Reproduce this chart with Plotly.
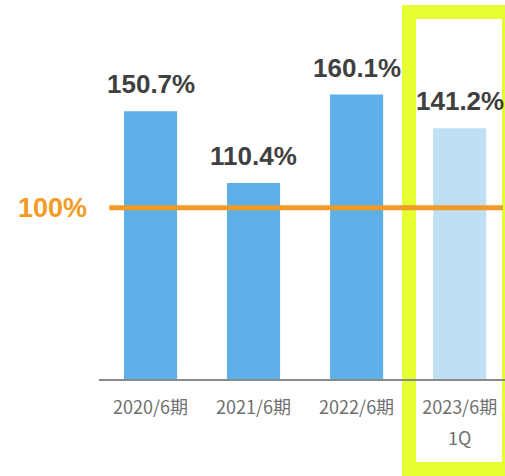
import plotly.graph_objects as go

categories = ["2020/6期", "2021/6期", "2022/6期", "2023/6期"]
sub_labels = ["", "", "", "1Q"]
values = [150.7, 110.4, 160.1, 141.2]
bar_colors = ["#5DAFE8", "#5DAFE8", "#5DAFE8", "#BFDFF5"]
value_labels = ["150.7%", "110.4%", "160.1%", "141.2%"]
ref_value = 100
ref_label = "100%"

W, H = 505, 476
L, R, T, B = 99, 0, 77, 97

fig = go.Figure()
fig.add_trace(go.Bar(
    x=list(range(len(categories))), y=values,
    marker=dict(color=bar_colors, line=dict(width=0)),
    width=0.515, hoverinfo="skip", cliponaxis=False,
))
fig.add_trace(go.Scatter(
    x=[-0.4, 3.42], y=[ref_value, ref_value], yaxis="y2",
    mode="lines", line=dict(color="#F09A28", width=5),
    hoverinfo="skip", cliponaxis=False,
))

for i, (v, t) in enumerate(zip(values, value_labels)):
    fig.add_annotation(x=i, y=v, text=t, showarrow=False, yanchor="bottom",
                       yshift=10, font=dict(family="Liberation Sans, Arial", size=26,
                                            color="#404040", weight="bold"))
for i, s in enumerate(sub_labels):
    if s:
        fig.add_annotation(x=i, y=0, text=s, showarrow=False, yanchor="middle",
                           yshift=-58, font=dict(family="Noto Sans CJK JP", size=18,
                                                 color="#707070"))

fig.add_annotation(xref="paper", yref="y2", x=(89 - L) / (W - L - R), y=ref_value,
                   text=ref_label, showarrow=False, xanchor="right", yanchor="middle",
                   font=dict(family="Liberation Sans, Arial", size=27,
                             color="#F29B26", weight="bold"))

# highlight frame around the last category
fig.add_shape(type="rect", xref="paper", yref="paper",
              x0=(409 - L) / (W - L - R), x1=(509 - L) / (W - L - R),
              y0=(H - B - 469) / (H - T - B), y1=(H - B - 12) / (H - T - B),
              line=dict(color="#E6FF33", width=14), fillcolor="rgba(0,0,0,0)",
              layer="below")

fig.update_layout(
    width=W, height=H, margin=dict(l=L, r=R, t=T, b=B),
    paper_bgcolor="white", plot_bgcolor="rgba(0,0,0,0)", showlegend=False,
    xaxis=dict(range=[-0.5, 3.44], tickmode="array", tickvals=list(range(len(categories))),
               ticktext=categories, showline=True, linecolor="#8A8A8A", linewidth=2,
               showgrid=False, zeroline=False, ticks="", ticklabelstandoff=11,
               tickfont=dict(family="Noto Sans CJK JP", size=18, color="#707070")),
    yaxis=dict(range=[0, 170], visible=False, showgrid=False, zeroline=False),
    yaxis2=dict(range=[0, 176.4], overlaying="y", visible=False, showgrid=False,
                zeroline=False),
)

fig.write_html("out.html", config={"displayModeBar": False},
               post_script="document.body.style.margin='0';document.body.style.overflow='hidden';")
